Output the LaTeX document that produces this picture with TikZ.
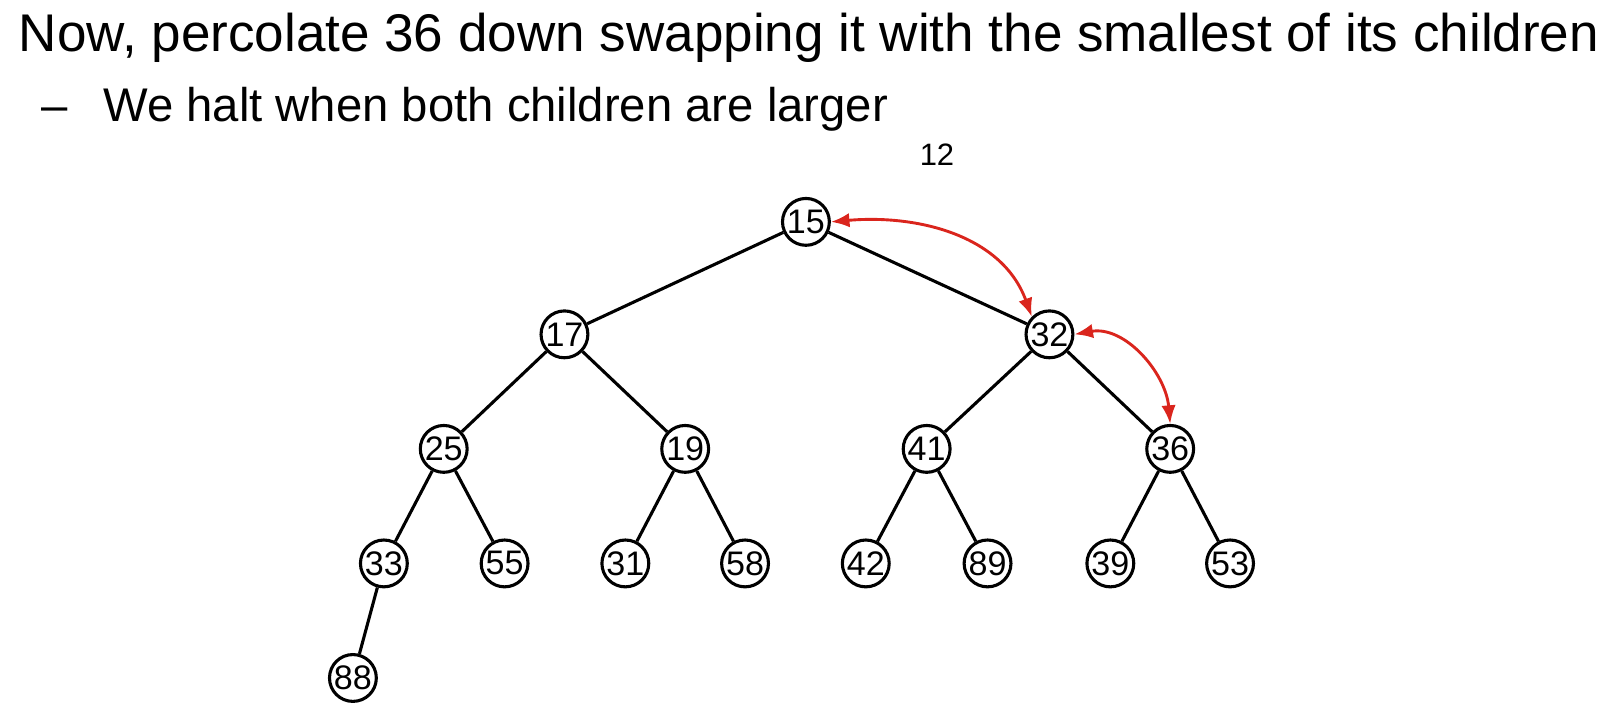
\documentclass[tikz,border=0pt]{standalone}
\usepackage{fontspec}
\setmainfont{Liberation Sans}
\usetikzlibrary{arrows.meta}
\definecolor{swapred}{RGB}{218,37,29}
\tikzset{
  heapnode/.style={circle, draw, line width=1.5pt, minimum size=22.7pt, inner sep=0pt, font=\fontsize{16.5}{16.5}\selectfont},
  heapedge/.style={line width=1.5pt},
  swaparrow/.style={draw=swapred, line width=1.4pt, {Latex[length=9pt,width=7pt]}-{Latex[length=9pt,width=7pt]}}
}

\begin{document}
\begin{tikzpicture}[x=0.5pt,y=-0.5pt]
\useasboundingbox (0,0) rectangle (1567,686);
\node[anchor=base west, inner sep=0pt, font=\fontsize{25.7}{25.7}\selectfont] (title) at (18,50) {Now, percolate 36 down swapping it with the smallest of its children};
\node[anchor=base west, inner sep=0pt, font=\fontsize{22.9}{22.9}\selectfont] (sub) at (40,118) {–\hspace{0.75em}We halt when both children are larger};
\node[font=\fontsize{15}{15}\selectfont] (top) at (908,150) {12};

\node[heapnode] (n15) at (781,215) {15};
\node[heapnode] (n17) at (547,324) {17};
\node[heapnode] (n32) at (1017,324) {32};
\node[heapnode] (n25) at (430,435) {25};
\node[heapnode] (n19) at (664,435) {19};
\node[heapnode] (n41) at (898,435) {41};
\node[heapnode] (n36) at (1134,435) {36};
\node[heapnode] (n33) at (372,546) {33};
\node[heapnode] (n55) at (489,546) {55};
\node[heapnode] (n31) at (606,546) {31};
\node[heapnode] (n58) at (722,546) {58};
\node[heapnode] (n42) at (839,546) {42};
\node[heapnode] (n89) at (957,546) {89};
\node[heapnode] (n39) at (1076,546) {39};
\node[heapnode] (n53) at (1192,546) {53};
\node[heapnode] (n88) at (342,657) {88};

\foreach \a/\b in {n15/n17,n15/n32,n17/n25,n17/n19,n32/n41,n32/n36,
  n25/n33,n25/n55,n19/n31,n19/n58,n41/n42,n41/n89,n36/n39,n36/n53,n33/n88}
  \draw[heapedge] (\a) -- (\b);

\draw[swaparrow] (n15.east) to[out=5,in=110] (n32.north west);
\draw[swaparrow] (n32.east) to[out=10,in=95] (n36.north);
\end{tikzpicture}
\end{document}
